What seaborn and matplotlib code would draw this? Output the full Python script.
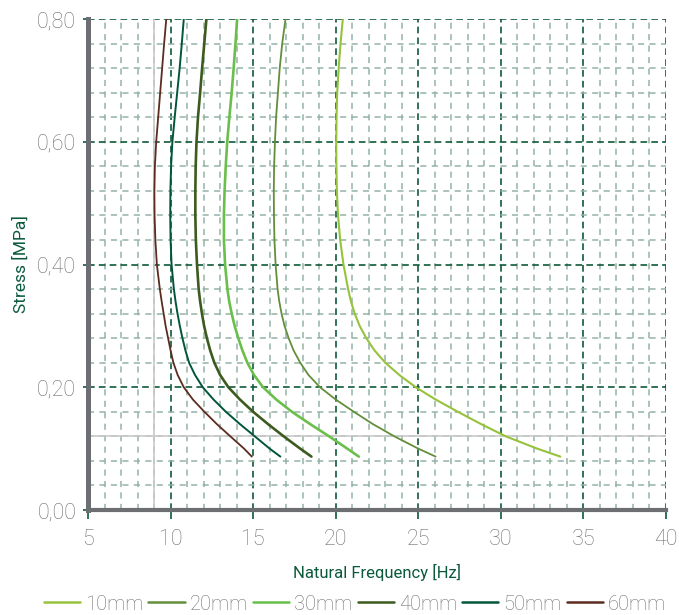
import numpy as np
import pandas as pd
import matplotlib
matplotlib.use("Agg")
import matplotlib.pyplot as plt
from matplotlib.ticker import MultipleLocator, FixedLocator
import seaborn as sns

sns.set_theme(style="white")
plt.rcParams['font.family'] = ['Roboto', 'DejaVu Sans']

# ---- data ----
series_names = ["10mm", "20mm", "30mm", "40mm", "50mm", "60mm"]
series_colors = ["#97C23C", "#628F3C", "#6ABF4B", "#3D5A1F", "#00553A", "#5B2C1F"]

stress_common = [0.087, 0.10, 0.12, 0.14, 0.16, 0.18, 0.20, 0.22, 0.24, 0.26, 0.28, 0.30,
                 0.32, 0.34, 0.36, 0.40, 0.44, 0.48, 0.52, 0.56, 0.60, 0.64, 0.68, 0.72,
                 0.76, 0.80]

freq_10mm = [33.6, 32.2, 30.3, 28.8, 27.4, 26.05, 24.85, 23.85, 23.0, 22.35, 21.85, 21.45,
             21.15, 20.92, 20.75, 20.47, 20.27, 20.14, 20.07, 20.04, 20.03, 20.05, 20.09, 20.18,
             20.29, 20.43]
freq_20mm = [26.05, 25.0, 23.55, 22.25, 21.1, 20.0, 19.05, 18.35, 17.85, 17.45, 17.15, 16.9,
             16.72, 16.58, 16.48, 16.36, 16.29, 16.26, 16.25, 16.27, 16.32, 16.39, 16.5, 16.61,
             16.76, 16.96]
freq_30mm = [21.4, 20.7, 19.6, 18.45, 17.35, 16.4, 15.6, 15.05, 14.65, 14.35, 14.1, 13.88,
             13.7, 13.55, 13.44, 13.3, 13.23, 13.23, 13.27, 13.34, 13.43, 13.56, 13.7, 13.82,
             13.93, 14.03]
freq_40mm = [18.53, 17.85, 16.85, 15.9, 15.0, 14.2, 13.5, 13.0, 12.65, 12.4, 12.2, 12.03,
             11.9, 11.79, 11.7, 11.6, 11.53, 11.5, 11.5, 11.52, 11.57, 11.66, 11.79, 11.91,
             12.04, 12.17]
freq_50mm = [16.65, 16.0, 15.1, 14.2, 13.35, 12.6, 11.95, 11.48, 11.12, 10.9, 10.72, 10.56,
             10.42, 10.3, 10.2, 10.06, 10.0, 9.98, 9.99, 10.03, 10.11, 10.25, 10.4, 10.55,
             10.68, 10.8]
freq_60mm = [14.92, 14.45, 13.62, 12.8, 12.05, 11.35, 10.8, 10.43, 10.17, 10.0, 9.85, 9.7,
             9.58, 9.46, 9.35, 9.17, 9.08, 9.03, 9.02, 9.05, 9.13, 9.25, 9.37, 9.49,
             9.61, 9.74]

all_freqs = [freq_10mm, freq_20mm, freq_30mm, freq_40mm, freq_50mm, freq_60mm]
line_widths = [1.5, 1.3, 1.9, 1.9, 1.4, 1.3]

x_ticks = [5, 10, 15, 20, 25, 30, 35, 40]
y_ticks = [0.0, 0.2, 0.4, 0.6, 0.8]
y_tick_labels = ["0,00", "0,20", "0,40", "0,60", "0,80"]
ref_x = 9.0
ref_y = 0.12

# ---- figure ----
fig = plt.figure(figsize=(6.79, 6.15), dpi=100)
ax = fig.add_axes([88/679, 1 - 510/615, (666 - 88)/679, (510 - 19)/615])

major_c = "#0E5A3A"
minor_c = "#93B3A4"
label_c = "#6e6e6e"

ax.set_xlim(5, 40)
ax.set_ylim(0, 0.8)
ax.xaxis.set_major_locator(FixedLocator(x_ticks))
ax.yaxis.set_major_locator(FixedLocator(y_ticks))
ax.xaxis.set_minor_locator(MultipleLocator(1))
ax.yaxis.set_minor_locator(MultipleLocator(0.04))

ax.grid(which='minor', color=minor_c, linestyle=(0, (4, 3.5)), linewidth=1.1, zorder=0)
ax.grid(which='major', color=major_c, linestyle=(0, (4, 2.5)), linewidth=1.2, zorder=0)
ax.set_axisbelow(True)

ax.axvline(ref_x, color="#c9c9c9", lw=1.2, zorder=1)
ax.axhline(ref_y, color="#c9c9c9", lw=1.2, zorder=1)

for name, col, fr, lw in zip(series_names, series_colors, all_freqs, line_widths):
    df = pd.DataFrame({"freq": fr, "stress": stress_common, "series": name})
    sns.lineplot(data=df, x="freq", y="stress", sort=False, estimator=None,
                 color=col, lw=lw, ax=ax, label=name, zorder=3)
for ln in ax.get_lines():
    ln.set_solid_joinstyle('round')

for s in ["top", "right"]:
    ax.spines[s].set_visible(False)
ax.spines["left"].set_color("#6D6E71")
ax.spines["left"].set_linewidth(3.6)
ax.spines["bottom"].set_color("#6D6E71")
ax.spines["bottom"].set_linewidth(3.0)
ax.spines["left"].set_zorder(4)
ax.spines["bottom"].set_zorder(4)

ax.set_yticklabels(y_tick_labels)
ax.tick_params(axis='x', which='major', length=6.5, width=1.2, color=major_c,
               labelsize=15.5, labelcolor=label_c, pad=7, direction='out', bottom=True)
ax.tick_params(axis='y', which='major', length=3.5, width=1.2, color=major_c,
               labelsize=15.5, labelcolor=label_c, pad=5, direction='out', left=True)
ax.tick_params(which='minor', length=0)
for lab in ax.get_xticklabels() + ax.get_yticklabels():
    lab.set_fontweight('light')

ax.set_xlabel("Natural Frequency [Hz]", color="#0B5A3C", fontsize=12, labelpad=10)
ax.set_ylabel("Stress [MPa]", color="#0B5A3C", fontsize=12.5, labelpad=6)

ax.get_legend().remove()
handles, labels = ax.get_legend_handles_labels()
leg = fig.legend(handles, labels, loc='center', bbox_to_anchor=(355/679, 1 - 604/615),
                 ncol=6, frameon=False, fontsize=14.5, handlelength=1.8,
                 handletextpad=0.25, columnspacing=0.25, borderaxespad=0.0, borderpad=0.0)
for t in leg.get_texts():
    t.set_color(label_c)
    t.set_fontweight('light')
for h in leg.legend_handles:
    h.set_linewidth(1.8)

fig.savefig("out.png", dpi=100)
